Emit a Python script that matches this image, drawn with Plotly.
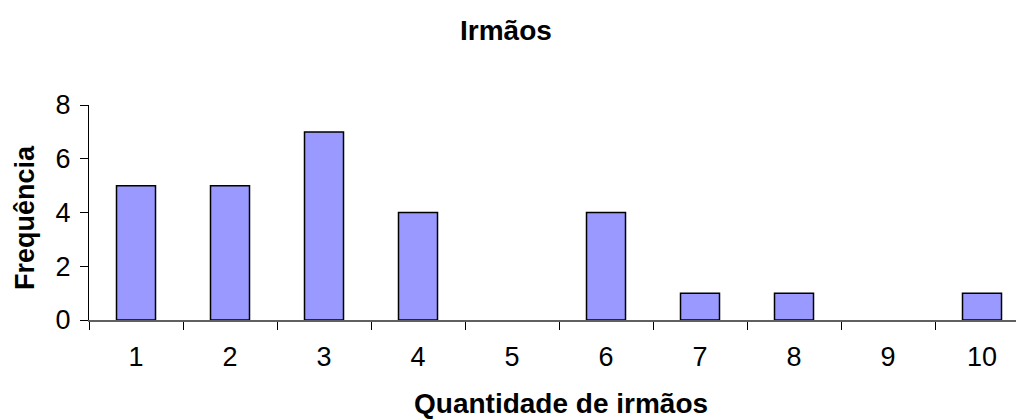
import plotly.graph_objects as go

categories = ["1", "2", "3", "4", "5", "6", "7", "8", "9", "10"]
frequencia = [5, 5, 7, 4, 0, 4, 1, 1, 0, 1]
y_ticks = [0, 2, 4, 6, 8]

fig = go.Figure()
fig.add_trace(go.Bar(
    x=categories, y=frequencia,
    marker=dict(color="#9999FF",
                line=dict(color="black", width=[1.5 if v > 0 else 0 for v in frequencia])),
    width=0.415,
))

font = "Liberation Sans, Arial, sans-serif"
OFF = 8  # page body margin
# target plot box in screen pixels
L, R, T, B = 89, 1029, 105, 320
FW, FH = 1024, 419
W, H = R - L, B - T


def px(x):
    return (x - L) / W


def py(y):
    return (B - y) / H


fig.update_layout(
    width=FW, height=FH,
    margin=dict(l=L - OFF, r=FW - (R - OFF), t=T - OFF, b=FH - (B - OFF), autoexpand=False),
    paper_bgcolor="white", plot_bgcolor="white",
    showlegend=False,
    xaxis=dict(
        type="category", range=[-0.5, 9.5], automargin=False,
        showline=True, linecolor="#606060", linewidth=1.5,
        ticks="outside", ticklen=8, tickcolor="black", tickson="boundaries",
        tickfont=dict(family=font, size=27, color="black"),
        ticklabelstandoff=12,
        showgrid=False, zeroline=False,
    ),
    yaxis=dict(
        range=[0, 8], tickvals=y_ticks, automargin=False,
        showline=True, linecolor="black", linewidth=1,
        ticks="outside", ticklen=8, tickcolor="black",
        tickfont=dict(family=font, size=27, color="black"),
        ticklabelstandoff=4,
        showgrid=False, zeroline=False,
    ),
    annotations=[
        dict(text="<b>Irmãos</b>", xref="paper", yref="paper",
             x=px(506), y=py(30), xanchor="center", yanchor="middle",
             showarrow=False, font=dict(family=font, size=28, color="black")),
        dict(text="<b>Quantidade de irmãos</b>", xref="paper", yref="paper",
             x=px(561), y=py(403), xanchor="center", yanchor="middle",
             showarrow=False, font=dict(family=font, size=28, color="black")),
        dict(text="<b>Frequência</b>", xref="paper", yref="paper",
             x=px(25), y=py(218), xanchor="center", yanchor="middle", textangle=-90,
             showarrow=False, font=dict(family=font, size=27, color="black")),
    ],
)

fig.write_html("out.html")
